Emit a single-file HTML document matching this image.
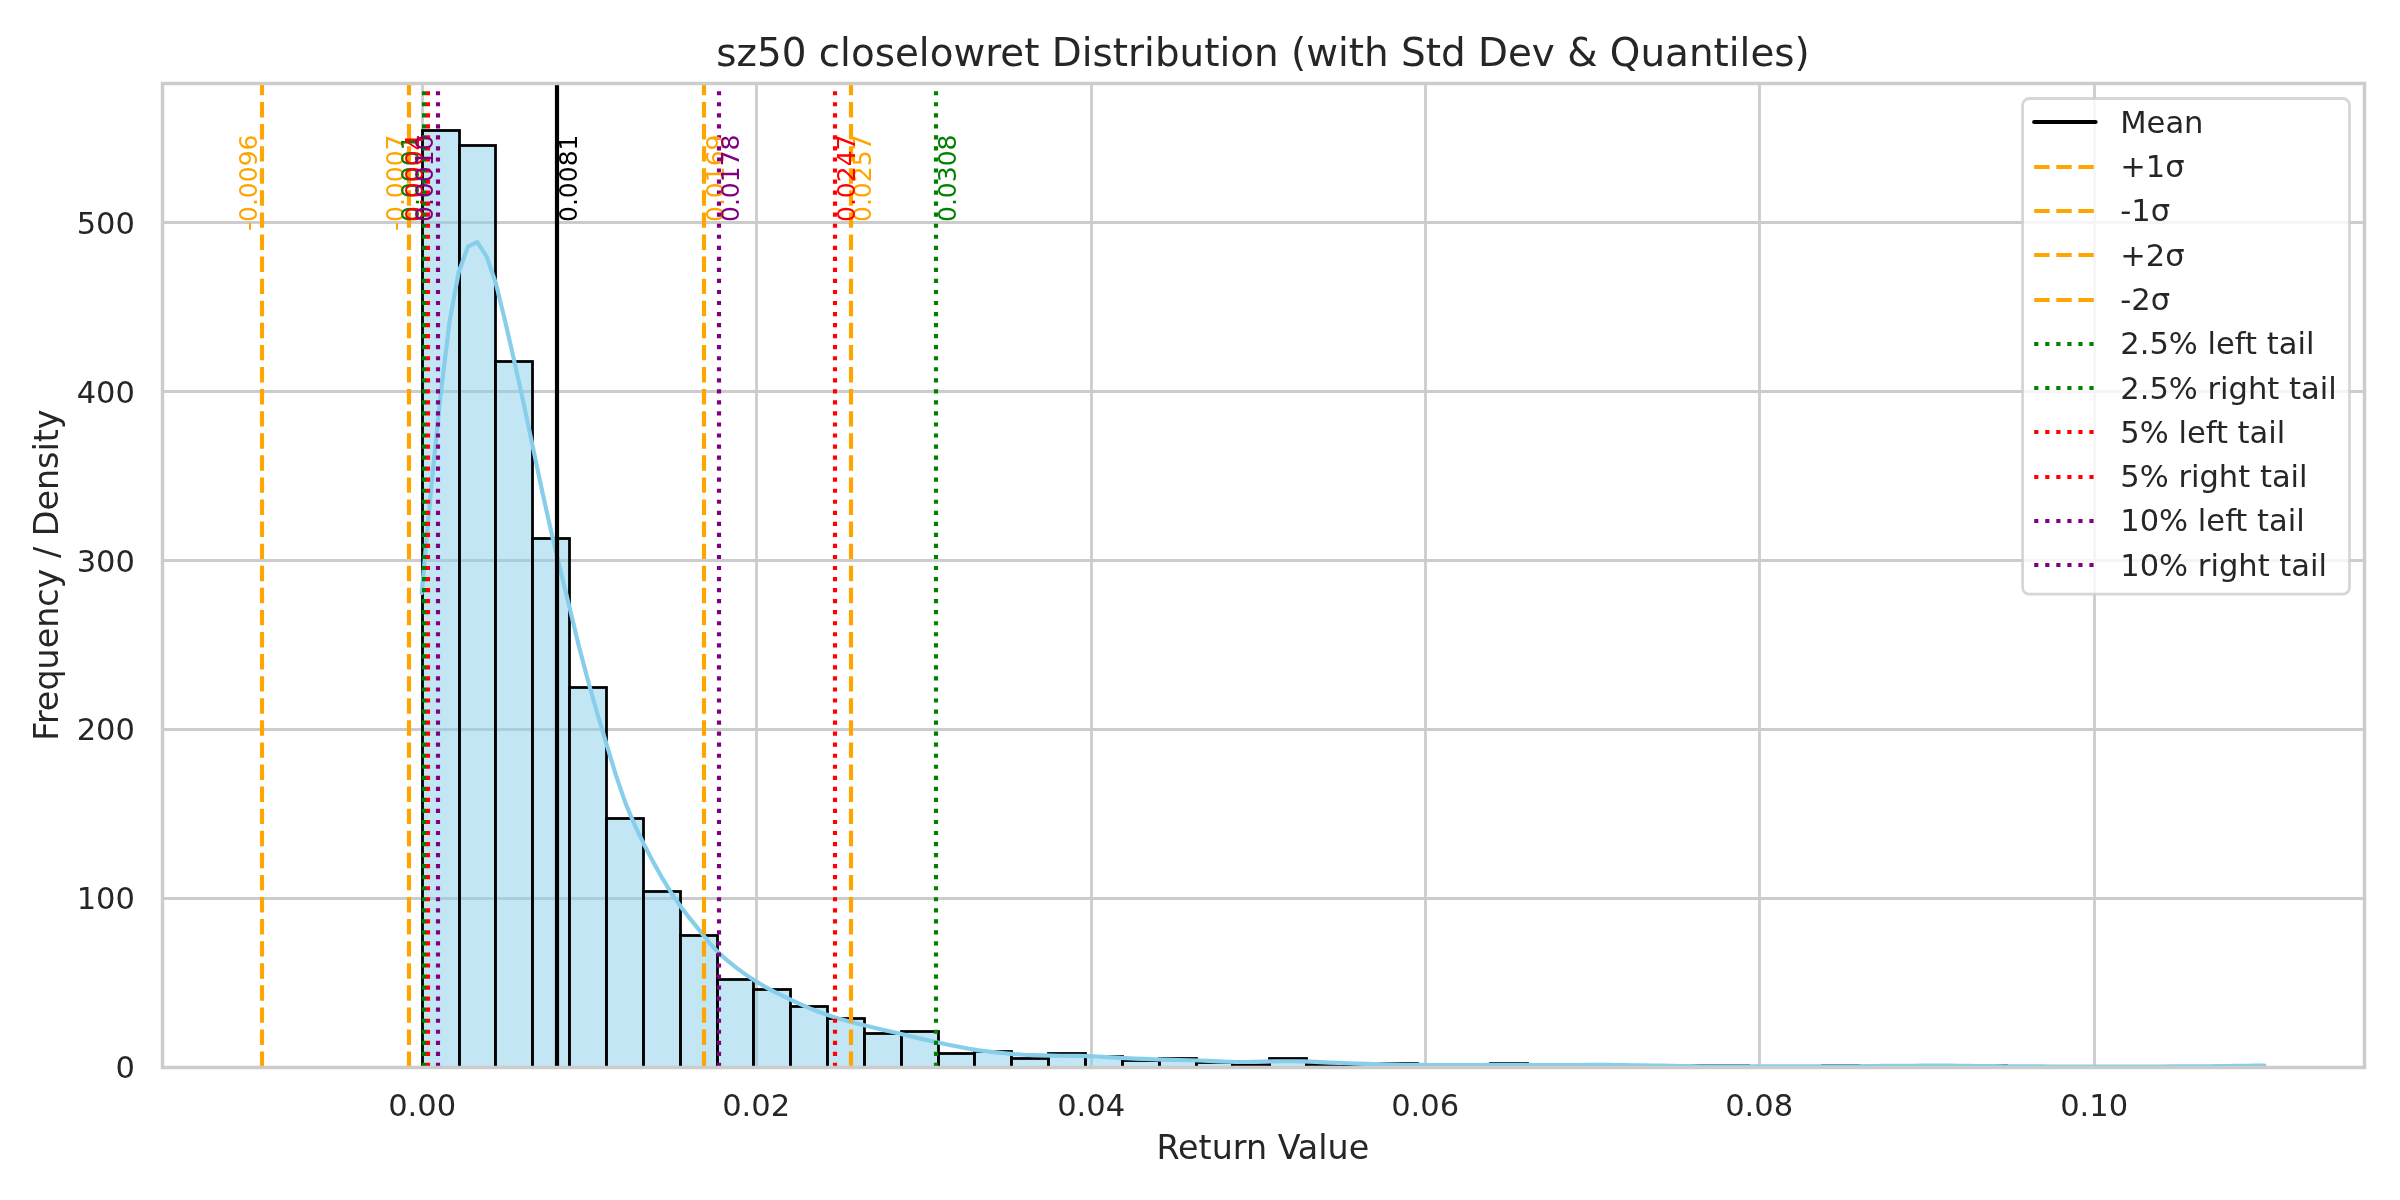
<!DOCTYPE html>
<html><head><meta charset="utf-8"><title>sz50 closelowret Distribution</title>
<style>html,body{margin:0;padding:0;background:#fff}svg{display:block;will-change:transform;opacity:0.9999}</style></head>
<body>
<svg width="2400" height="1200" viewBox="0 0 2400 1200" font-family='"DejaVu Sans","Liberation Sans",sans-serif'>
<rect width="2400" height="1200" fill="#fff"/>
<defs><clipPath id="ax"><rect x="162.0" y="83.0" width="2202.0" height="984.0"/></clipPath></defs>
<g stroke="#ccc" stroke-width="2.78" clip-path="url(#ax)">
<line x1="422.5" y1="83.0" x2="422.5" y2="1067.0"/>
<line x1="756.5" y1="83.0" x2="756.5" y2="1067.0"/>
<line x1="1091.5" y1="83.0" x2="1091.5" y2="1067.0"/>
<line x1="1425.5" y1="83.0" x2="1425.5" y2="1067.0"/>
<line x1="1759.5" y1="83.0" x2="1759.5" y2="1067.0"/>
<line x1="2094.5" y1="83.0" x2="2094.5" y2="1067.0"/>
<line x1="162.0" y1="898.5" x2="2364.0" y2="898.5"/>
<line x1="162.0" y1="729.5" x2="2364.0" y2="729.5"/>
<line x1="162.0" y1="560.5" x2="2364.0" y2="560.5"/>
<line x1="162.0" y1="391.5" x2="2364.0" y2="391.5"/>
<line x1="162.0" y1="222.5" x2="2364.0" y2="222.5"/>
</g>
<g clip-path="url(#ax)" fill="rgb(135,206,235)" fill-opacity="0.5" stroke="#000" stroke-width="2.78" stroke-linejoin="miter">
<rect x="422.5" y="130.5" width="37.0" height="937.0"/>
<rect x="459.5" y="145.5" width="36.0" height="922.0"/>
<rect x="495.5" y="361.5" width="37.0" height="706.0"/>
<rect x="532.5" y="538.5" width="37.0" height="529.0"/>
<rect x="569.5" y="687.5" width="37.0" height="380.0"/>
<rect x="606.5" y="818.5" width="37.0" height="249.0"/>
<rect x="643.5" y="891.5" width="37.0" height="176.0"/>
<rect x="680.5" y="935.5" width="37.0" height="132.0"/>
<rect x="717.5" y="979.5" width="36.0" height="88.0"/>
<rect x="753.5" y="989.5" width="37.0" height="78.0"/>
<rect x="790.5" y="1006.5" width="37.0" height="61.0"/>
<rect x="827.5" y="1018.5" width="37.0" height="49.0"/>
<rect x="864.5" y="1033.5" width="37.0" height="34.0"/>
<rect x="901.5" y="1031.5" width="37.0" height="36.0"/>
<rect x="938.5" y="1053.5" width="36.0" height="14.0"/>
<rect x="974.5" y="1051.5" width="37.0" height="16.0"/>
<rect x="1011.5" y="1058.5" width="37.0" height="9.0"/>
<rect x="1048.5" y="1053.5" width="37.0" height="14.0"/>
<rect x="1085.5" y="1056.5" width="37.0" height="11.0"/>
<rect x="1122.5" y="1060.5" width="37.0" height="7.0"/>
<rect x="1159.5" y="1058.5" width="37.0" height="9.0"/>
<rect x="1196.5" y="1062.5" width="36.0" height="5.0"/>
<rect x="1232.5" y="1064.5" width="37.0" height="3.0"/>
<rect x="1269.5" y="1058.5" width="37.0" height="9.0"/>
<rect x="1306.5" y="1064.5" width="37.0" height="3.0"/>
<rect x="1343.5" y="1065.5" width="37.0" height="2.0"/>
<rect x="1380.5" y="1063.5" width="37.0" height="4.0"/>
<rect x="1417.5" y="1065.5" width="37.0" height="2.0"/>
<rect x="1454.5" y="1065.5" width="36.0" height="2.0"/>
<rect x="1490.5" y="1063.5" width="37.0" height="4.0"/>
<rect x="1527.5" y="1065.5" width="37.0" height="2.0"/>
<rect x="1564.5" y="1065.5" width="37.0" height="2.0"/>
<rect x="1601.5" y="1065.5" width="37.0" height="2.0"/>
<rect x="1638.5" y="1067.5" width="37.0" height="0.0"/>
<rect x="1675.5" y="1065.5" width="36.0" height="2.0"/>
<rect x="1711.5" y="1065.5" width="37.0" height="2.0"/>
<rect x="1748.5" y="1067.5" width="37.0" height="0.0"/>
<rect x="1785.5" y="1067.5" width="37.0" height="0.0"/>
<rect x="1822.5" y="1065.5" width="37.0" height="2.0"/>
<rect x="1859.5" y="1067.5" width="37.0" height="0.0"/>
<rect x="1896.5" y="1067.5" width="37.0" height="0.0"/>
<rect x="1933.5" y="1067.5" width="36.0" height="0.0"/>
<rect x="1969.5" y="1065.5" width="37.0" height="2.0"/>
<rect x="2006.5" y="1067.5" width="37.0" height="0.0"/>
<rect x="2043.5" y="1067.5" width="37.0" height="0.0"/>
<rect x="2080.5" y="1067.5" width="37.0" height="0.0"/>
<rect x="2117.5" y="1067.5" width="37.0" height="0.0"/>
<rect x="2154.5" y="1067.5" width="37.0" height="0.0"/>
<rect x="2191.5" y="1067.5" width="36.0" height="0.0"/>
<rect x="2227.5" y="1065.5" width="37.0" height="2.0"/>
</g>
<path d="M421.70,593.00 L430.96,490.50 L440.22,398.00 L449.48,322.00 L458.74,272.00 L467.99,246.70 L477.25,242.10 L486.51,256.30 L495.77,283.00 L505.03,320.68 L514.29,361.28 L523.55,402.99 L532.81,446.93 L542.06,490.76 L551.32,532.21 L560.58,570.76 L569.84,608.82 L579.10,646.93 L588.36,682.08 L597.62,714.48 L606.88,745.39 L616.13,775.84 L625.39,802.93 L634.65,824.98 L643.91,844.16 L653.17,861.89 L662.43,878.40 L671.69,893.49 L680.95,906.91 L690.21,918.89 L699.46,930.33 L708.72,942.05 L717.98,952.16 L727.24,960.48 L736.50,967.91 L745.76,974.62 L755.02,980.72 L764.28,986.30 L773.53,991.33 L782.79,995.98 L792.05,1000.36 L801.31,1004.58 L810.57,1008.58 L819.83,1012.26 L829.09,1015.53 L838.35,1018.41 L847.60,1021.03 L856.86,1023.48 L866.12,1025.85 L875.38,1028.09 L884.64,1030.21 L893.90,1032.31 L903.16,1034.45 L912.42,1036.66 L921.67,1038.89 L930.93,1041.05 L940.19,1043.07 L949.45,1044.96 L958.71,1046.75 L967.97,1048.54 L977.23,1050.07 L986.49,1051.29 L995.75,1052.32 L1005.00,1053.24 L1014.26,1054.09 L1023.52,1054.73 L1032.78,1055.13 L1042.04,1055.42 L1051.30,1055.62 L1060.56,1055.73 L1069.82,1055.81 L1079.07,1055.91 L1088.33,1056.09 L1097.59,1056.51 L1106.85,1057.10 L1116.11,1057.69 L1125.37,1058.15 L1134.63,1058.56 L1143.89,1058.94 L1153.14,1059.28 L1162.40,1059.57 L1171.66,1059.81 L1180.92,1060.02 L1190.18,1060.24 L1199.44,1060.48 L1208.70,1060.84 L1217.96,1061.30 L1227.22,1061.72 L1236.47,1061.98 L1245.73,1061.97 L1254.99,1061.83 L1264.25,1061.62 L1273.51,1061.40 L1282.77,1061.25 L1292.03,1061.21 L1301.29,1061.37 L1310.54,1061.69 L1319.80,1062.11 L1329.06,1062.55 L1338.32,1062.94 L1347.58,1063.27 L1356.84,1063.61 L1366.10,1063.92 L1375.36,1064.19 L1384.61,1064.39 L1393.87,1064.56 L1403.13,1064.71 L1412.39,1064.83 L1421.65,1064.91 L1430.91,1064.98 L1440.17,1065.04 L1449.43,1065.08 L1458.68,1065.10 L1467.94,1065.08 L1477.20,1065.00 L1486.46,1064.91 L1495.72,1064.83 L1504.98,1064.80 L1514.24,1064.83 L1523.50,1064.91 L1532.76,1065.00 L1542.01,1065.08 L1551.27,1065.10 L1560.53,1065.08 L1569.79,1065.03 L1579.05,1064.98 L1588.31,1064.93 L1597.57,1064.90 L1606.83,1064.92 L1616.08,1064.99 L1625.34,1065.10 L1634.60,1065.23 L1643.86,1065.35 L1653.12,1065.52 L1662.38,1065.70 L1671.64,1065.87 L1680.90,1066.01 L1690.15,1066.14 L1699.41,1066.26 L1708.67,1066.35 L1717.93,1066.40 L1727.19,1066.40 L1736.45,1066.40 L1745.71,1066.40 L1754.97,1066.40 L1764.23,1066.40 L1773.48,1066.40 L1782.74,1066.40 L1792.00,1066.40 L1801.26,1066.40 L1810.52,1066.39 L1819.78,1066.37 L1829.04,1066.34 L1838.30,1066.31 L1847.55,1066.26 L1856.81,1066.22 L1866.07,1066.16 L1875.33,1066.06 L1884.59,1065.95 L1893.85,1065.85 L1903.11,1065.78 L1912.37,1065.72 L1921.62,1065.66 L1930.88,1065.62 L1940.14,1065.60 L1949.40,1065.64 L1958.66,1065.73 L1967.92,1065.85 L1977.18,1065.97 L1986.44,1066.07 L1995.69,1066.19 L2004.95,1066.29 L2014.21,1066.37 L2023.47,1066.41 L2032.73,1066.43 L2041.99,1066.45 L2051.25,1066.46 L2060.51,1066.47 L2069.77,1066.49 L2079.02,1066.49 L2088.28,1066.50 L2097.54,1066.50 L2106.80,1066.50 L2116.06,1066.50 L2125.32,1066.49 L2134.58,1066.49 L2143.84,1066.48 L2153.09,1066.47 L2162.35,1066.46 L2171.61,1066.45 L2180.87,1066.44 L2190.13,1066.42 L2199.39,1066.40 L2208.65,1066.34 L2217.91,1066.19 L2227.16,1066.02 L2236.42,1065.85 L2245.68,1065.72 L2254.94,1065.61 L2264.20,1065.50" fill="none" stroke="#87ceeb" stroke-width="4.17" stroke-linecap="round" stroke-linejoin="round" clip-path="url(#ax)"/>
<g clip-path="url(#ax)" stroke-width="4.17" fill="none">
<line x1="557" y1="1067.0" x2="557" y2="83.0" stroke="#000"/>
<line x1="704" y1="1067.0" x2="704" y2="83.0" stroke="#ffa500" stroke-dasharray="15.417 6.667"/>
<line x1="409" y1="1067.0" x2="409" y2="83.0" stroke="#ffa500" stroke-dasharray="15.417 6.667"/>
<line x1="851" y1="1067.0" x2="851" y2="83.0" stroke="#ffa500" stroke-dasharray="15.417 6.667"/>
<line x1="262" y1="1067.0" x2="262" y2="83.0" stroke="#ffa500" stroke-dasharray="15.417 6.667"/>
<line x1="424" y1="1067.0" x2="424" y2="83.0" stroke="#008000" stroke-dasharray="4.167 6.875"/>
<line x1="936" y1="1067.0" x2="936" y2="83.0" stroke="#008000" stroke-dasharray="4.167 6.875"/>
<line x1="428" y1="1067.0" x2="428" y2="83.0" stroke="#ff0000" stroke-dasharray="4.167 6.875"/>
<line x1="835" y1="1067.0" x2="835" y2="83.0" stroke="#ff0000" stroke-dasharray="4.167 6.875"/>
<line x1="438" y1="1067.0" x2="438" y2="83.0" stroke="#800080" stroke-dasharray="4.167 6.875"/>
<line x1="719" y1="1067.0" x2="719" y2="83.0" stroke="#800080" stroke-dasharray="4.167 6.875"/>
</g>
<rect x="162.5" y="83.5" width="2202.0" height="984.0" fill="none" stroke="#ccc" stroke-width="3.47"/>
<text transform="translate(576.90,134.5) rotate(-90)" text-anchor="end" font-size="25" fill="#000">0.0081</text>
<text transform="translate(723.90,134.5) rotate(-90)" text-anchor="end" font-size="25" fill="#ffa500">0.0169</text>
<text transform="translate(404.30,134.5) rotate(-90)" text-anchor="end" font-size="25" fill="#ffa500">-0.0007</text>
<text transform="translate(870.90,134.5) rotate(-90)" text-anchor="end" font-size="25" fill="#ffa500">0.0257</text>
<text transform="translate(257.30,134.5) rotate(-90)" text-anchor="end" font-size="25" fill="#ffa500">-0.0096</text>
<text transform="translate(419.30,134.5) rotate(-90)" text-anchor="end" font-size="25" fill="#008000">0.0001</text>
<text transform="translate(955.90,134.5) rotate(-90)" text-anchor="end" font-size="25" fill="#008000">0.0308</text>
<text transform="translate(423.30,134.5) rotate(-90)" text-anchor="end" font-size="25" fill="#ff0000">0.0004</text>
<text transform="translate(854.90,134.5) rotate(-90)" text-anchor="end" font-size="25" fill="#ff0000">0.0247</text>
<text transform="translate(433.30,134.5) rotate(-90)" text-anchor="end" font-size="25" fill="#800080">0.0010</text>
<text transform="translate(738.90,134.5) rotate(-90)" text-anchor="end" font-size="25" fill="#800080">0.0178</text>
<g font-size="30.56" fill="#262626">
<text x="422.2" y="1116" text-anchor="middle">0.00</text>
<text x="756.2" y="1116" text-anchor="middle">0.02</text>
<text x="1091.2" y="1116" text-anchor="middle">0.04</text>
<text x="1425.2" y="1116" text-anchor="middle">0.06</text>
<text x="1759.2" y="1116" text-anchor="middle">0.08</text>
<text x="2094.2" y="1116" text-anchor="middle">0.10</text>
<text x="135" y="1078" text-anchor="end">0</text>
<text x="135" y="909" text-anchor="end">100</text>
<text x="135" y="740" text-anchor="end">200</text>
<text x="135" y="572" text-anchor="end">300</text>
<text x="135" y="403" text-anchor="end">400</text>
<text x="135" y="234" text-anchor="end">500</text>
</g>
<text x="1262.8" y="1158.9" text-anchor="middle" font-size="33.33" fill="#262626">Return Value</text>
<text transform="translate(58,575.2) rotate(-90)" text-anchor="middle" font-size="33.33" fill="#262626">Frequency / Density</text>
<text x="1263.0" y="66" text-anchor="middle" font-size="38.89" fill="#262626">sz50 closelowret Distribution (with Std Dev &amp; Quantiles)</text>
<rect x="2022.6" y="98.5" width="326.90" height="495.70" rx="6.6" ry="6.6" fill="#fff" fill-opacity="0.8" stroke="#ccc" stroke-opacity="0.8" stroke-width="2.78"/>
<line x1="2034.2" y1="122" x2="2095.6" y2="122" stroke="#000" stroke-width="4.17" stroke-linecap="round"/>
<text x="2120.25" y="132.90" font-size="30.56" fill="#262626">Mean</text>
<line x1="2034.2" y1="167" x2="2095.6" y2="167" stroke="#ffa500" stroke-width="4.17" stroke-dasharray="15.417 6.667"/>
<text x="2120.25" y="177.18" font-size="30.56" fill="#262626">+1σ</text>
<line x1="2034.2" y1="211" x2="2095.6" y2="211" stroke="#ffa500" stroke-width="4.17" stroke-dasharray="15.417 6.667"/>
<text x="2120.25" y="221.46" font-size="30.56" fill="#262626">-1σ</text>
<line x1="2034.2" y1="255" x2="2095.6" y2="255" stroke="#ffa500" stroke-width="4.17" stroke-dasharray="15.417 6.667"/>
<text x="2120.25" y="265.73" font-size="30.56" fill="#262626">+2σ</text>
<line x1="2034.2" y1="300" x2="2095.6" y2="300" stroke="#ffa500" stroke-width="4.17" stroke-dasharray="15.417 6.667"/>
<text x="2120.25" y="310.01" font-size="30.56" fill="#262626">-2σ</text>
<line x1="2034.2" y1="344" x2="2095.6" y2="344" stroke="#008000" stroke-width="4.17" stroke-dasharray="4.167 6.875"/>
<text x="2120.25" y="354.29" font-size="30.56" fill="#262626">2.5% left tail</text>
<line x1="2034.2" y1="388" x2="2095.6" y2="388" stroke="#008000" stroke-width="4.17" stroke-dasharray="4.167 6.875"/>
<text x="2120.25" y="398.57" font-size="30.56" fill="#262626">2.5% right tail</text>
<line x1="2034.2" y1="432" x2="2095.6" y2="432" stroke="#ff0000" stroke-width="4.17" stroke-dasharray="4.167 6.875"/>
<text x="2120.25" y="442.85" font-size="30.56" fill="#262626">5% left tail</text>
<line x1="2034.2" y1="477" x2="2095.6" y2="477" stroke="#ff0000" stroke-width="4.17" stroke-dasharray="4.167 6.875"/>
<text x="2120.25" y="487.12" font-size="30.56" fill="#262626">5% right tail</text>
<line x1="2034.2" y1="521" x2="2095.6" y2="521" stroke="#800080" stroke-width="4.17" stroke-dasharray="4.167 6.875"/>
<text x="2120.25" y="531.40" font-size="30.56" fill="#262626">10% left tail</text>
<line x1="2034.2" y1="565" x2="2095.6" y2="565" stroke="#800080" stroke-width="4.17" stroke-dasharray="4.167 6.875"/>
<text x="2120.25" y="575.68" font-size="30.56" fill="#262626">10% right tail</text>
</svg>
</body></html>
